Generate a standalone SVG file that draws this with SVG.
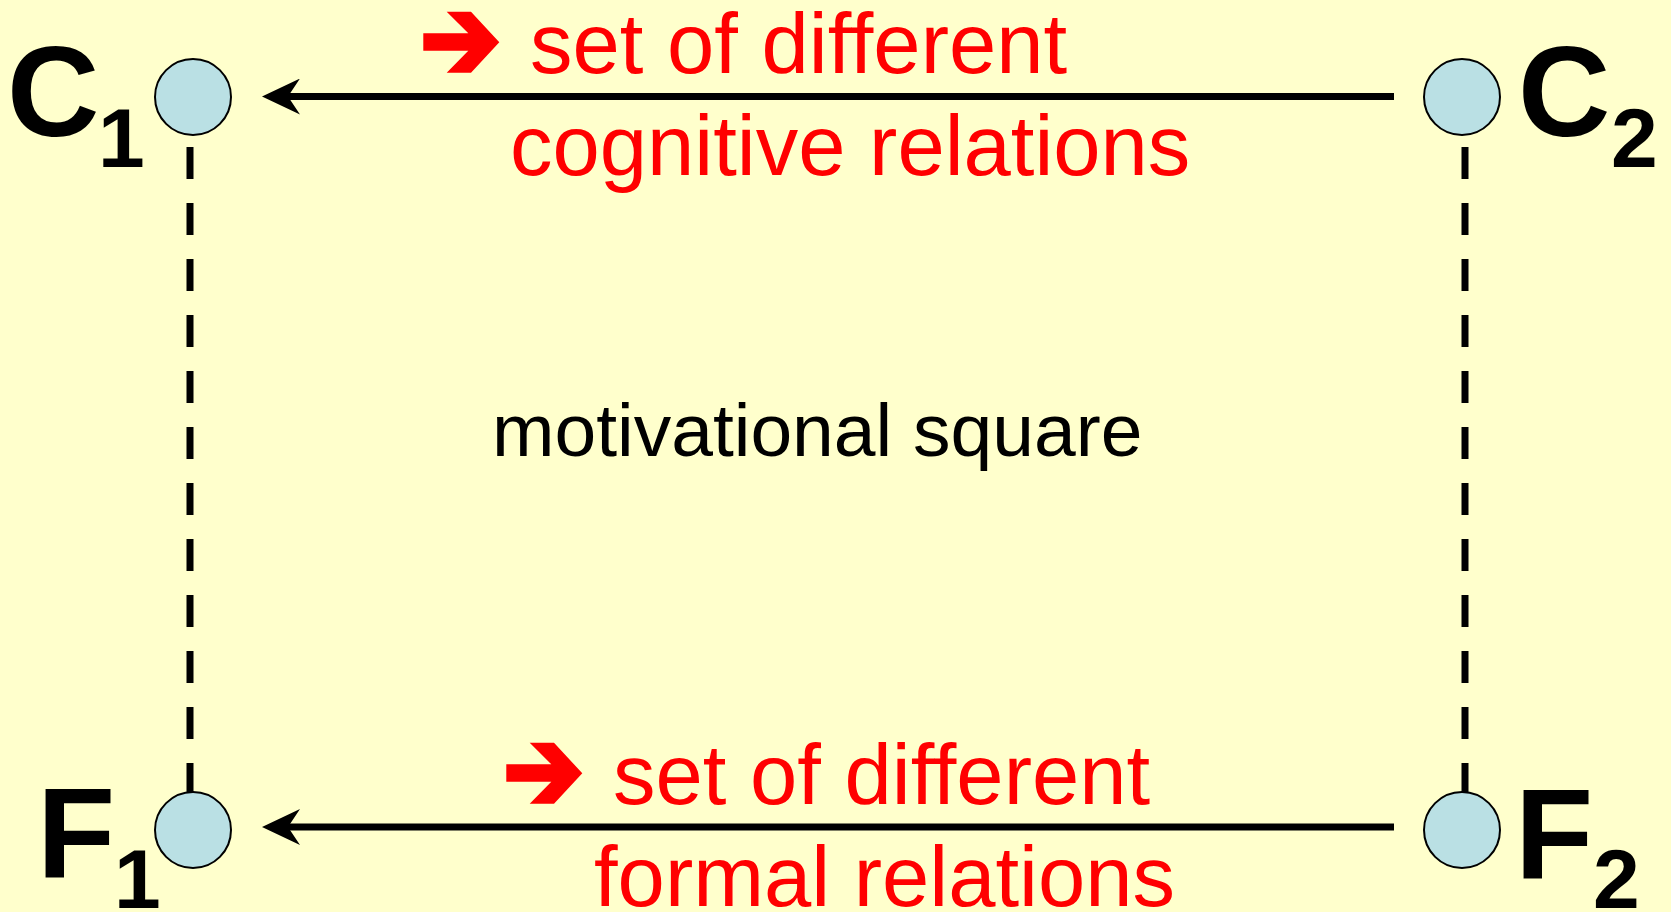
<svg xmlns="http://www.w3.org/2000/svg" width="1671" height="912" viewBox="0 0 1671 912">
<style>
.bg{fill:#FFFFCC}
.node{fill:#BAE0E4;stroke:#000;stroke-width:2}
.big{font-family:"Liberation Sans",Arial,sans-serif;font-weight:bold;fill:#000}
.red{font-family:"Liberation Sans",Arial,sans-serif;font-size:85px;fill:#FF0000}
.mid{font-family:"Liberation Sans",Arial,sans-serif;font-size:75px;fill:#000}
.arrow{stroke:#000;stroke-width:7;fill:none}
.dash{stroke:#000;stroke-width:7;fill:none;stroke-dasharray:32 24}
.sym{fill:#FF0000}
</style>
<defs>
<marker id="ah" viewBox="0 0 40 36" refX="12" refY="18" markerWidth="40" markerHeight="36" markerUnits="userSpaceOnUse" orient="auto">
<path d="M38,18 L0,0 L12,18 L0,36 Z" fill="#000"/>
</marker>
<polygon id="redarrow" points="423.3,33.3 468.3,33.3 446.7,11.7 471,11.7 499.3,42.3 471,72.7 446.7,72.7 468.3,50.7 423.3,50.7"/>
</defs>
<rect class="bg" x="0" y="0" width="1671" height="912"/>
<g id="connectors">
<line class="dash" x1="190" y1="147" x2="190" y2="795"/>
<line class="dash" x1="1465" y1="147" x2="1465" y2="795"/>
<line class="arrow" x1="1394" y1="96.5" x2="288" y2="96.5" marker-end="url(#ah)"/>
<line class="arrow" x1="1394" y1="827" x2="288" y2="827" marker-end="url(#ah)"/>
</g>
<g id="node-C1">
<circle class="node" cx="193" cy="97" r="38"/>
<text class="big" x="7" y="136" font-size="128">C</text>
<text class="big" x="98" y="167" font-size="84">1</text>
</g>
<g id="node-C2">
<circle class="node" cx="1462" cy="97" r="38"/>
<text class="big" x="1518" y="136" font-size="128">C</text>
<text class="big" x="1611" y="167" font-size="84">2</text>
</g>
<g id="node-F1">
<circle class="node" cx="193" cy="830" r="38"/>
<text class="big" x="37" y="877" font-size="128">F</text>
<text class="big" x="114" y="908" font-size="84">1</text>
</g>
<g id="node-F2">
<circle class="node" cx="1462" cy="830" r="38"/>
<text class="big" x="1515" y="878" font-size="128">F</text>
<text class="big" x="1593" y="908" font-size="84">2</text>
</g>
<g id="label-cognitive">
<use href="#redarrow" class="sym"/>
<text class="red" x="530" y="72.7">set of different</text>
<text class="red" x="510" y="175">cognitive relations</text>
</g>
<g id="label-formal">
<use href="#redarrow" class="sym" transform="translate(83,731)"/>
<text class="red" x="613" y="803.5">set of different</text>
<text class="red" x="594" y="906">formal relations</text>
</g>
<g id="label-center">
<text class="mid" x="492" y="456">motivational square</text>
</g>
</svg>
